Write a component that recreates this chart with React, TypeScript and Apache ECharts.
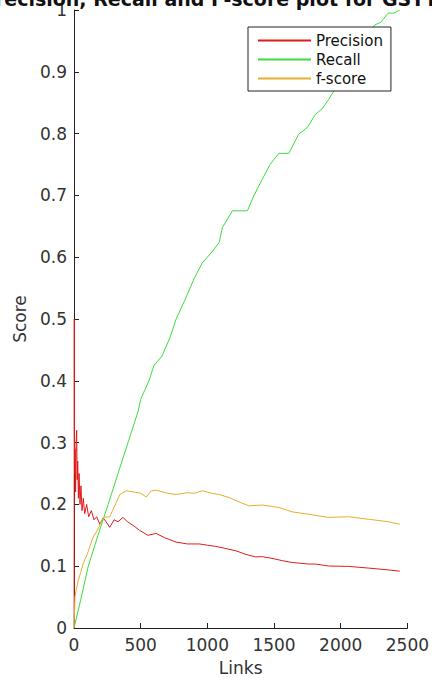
import React, { useEffect, useRef } from "react";
import * as echarts from "echarts";

const titleText = "Precision, Recall and F-score plot for GSTT.C";
const xTicks = [0, 500, 1000, 1500, 2000, 2500];
const seriesNames = ["Precision", "Recall", "f-score"];

const precisionLinks = [1, 2, 3, 5, 8, 12, 16, 20, 24, 28, 33, 38, 45, 52, 60, 70, 80, 95, 110, 130, 150, 170, 194, 219, 240, 268, 300, 330, 368, 400, 450, 492, 554, 617, 680, 766, 850, 940, 1000, 1064, 1130, 1213, 1290, 1362, 1412, 1500, 1561, 1636, 1760, 1810, 1909, 2058, 2207, 2356, 2443];
const precisionValues = [0, 0.5, 0.33, 0.25, 0.29, 0.22, 0.3, 0.32, 0.24, 0.27, 0.21, 0.25, 0.2, 0.23, 0.19, 0.21, 0.185, 0.2, 0.18, 0.19, 0.175, 0.18, 0.168, 0.178, 0.172, 0.163, 0.175, 0.172, 0.179, 0.172, 0.165, 0.158, 0.15, 0.153, 0.146, 0.139, 0.136, 0.136, 0.134, 0.132, 0.129, 0.125, 0.119, 0.115, 0.1155, 0.112, 0.109, 0.106, 0.1035, 0.1035, 0.1003, 0.0997, 0.097, 0.094, 0.092];

const recallLinks = [0, 50, 107, 180, 256, 330, 405, 480, 500, 562, 600, 660, 720, 766, 830, 900, 960, 1000, 1040, 1089, 1113, 1188, 1300, 1350, 1412, 1470, 1536, 1611, 1685, 1750, 1810, 1860, 1909, 1980, 2050, 2120, 2190, 2257, 2300, 2356, 2400, 2443];
const recallValues = [0, 0.045, 0.1, 0.15, 0.2, 0.25, 0.3, 0.35, 0.37, 0.4, 0.425, 0.44, 0.47, 0.5, 0.53, 0.565, 0.59, 0.6, 0.61, 0.624, 0.648, 0.675, 0.675, 0.7, 0.726, 0.75, 0.768, 0.768, 0.799, 0.81, 0.831, 0.84, 0.855, 0.88, 0.9, 0.93, 0.955, 0.976, 0.98, 0.995, 0.995, 1.0];

const fscoreLinks = [0, 7, 15, 32, 50, 69, 100, 144, 180, 219, 268, 300, 343, 393, 450, 500, 542, 580, 617, 700, 766, 850, 900, 964, 1030, 1089, 1163, 1250, 1312, 1412, 1536, 1635, 1760, 1909, 2058, 2207, 2356, 2443];
const fscoreValues = [0, 0.05, 0.06, 0.077, 0.09, 0.104, 0.12, 0.147, 0.16, 0.179, 0.18, 0.195, 0.216, 0.222, 0.22, 0.218, 0.212, 0.222, 0.223, 0.218, 0.216, 0.219, 0.218, 0.222, 0.218, 0.216, 0.211, 0.203, 0.1976, 0.199, 0.195, 0.188, 0.184, 0.179, 0.18, 0.176, 0.172, 0.168];

const colors = ["#e01b1b", "#3ddc3d", "#e6ad2e"];
const FONT = "DejaVu Sans";

function pairs(xs: number[], ys: number[]) {
  return xs.map((x, i) => [x, ys[i]]);
}

export default function App() {
  const ref = useRef<HTMLDivElement>(null);
  useEffect(() => {
    if (!ref.current) return;
    const chart = echarts.init(ref.current, undefined, { renderer: "svg" });
    const lineSeries = (name: string, data: number[][], color: string) => ({
      name,
      type: "line",
      data,
      symbol: "none",
      lineStyle: { color, width: 1 },
      itemStyle: { color },
    });
    chart.setOption({
      animation: false,
      backgroundColor: "#ffffff",
      title: {
        text: titleText,
        left: -24,
        top: -16,
        textStyle: { fontFamily: FONT, fontSize: 19, fontWeight: "bold", color: "#111" },
      },
      legend: {
        orient: "vertical",
        left: 248,
        top: 27,
        backgroundColor: "#fff",
        borderColor: "#222",
        borderWidth: 1,
        borderRadius: 0,
        padding: [6, 8, 5, 10],
        itemWidth: 53,
        itemHeight: 2,
        itemGap: 4,
        icon: "rect",
        data: seriesNames,
        textStyle: { fontFamily: FONT, fontSize: 15, color: "#111" },
      },
      grid: { left: 74, right: 23, top: 10, bottom: 50 },
      xAxis: {
        type: "value",
        min: xTicks[0],
        max: xTicks[xTicks.length - 1],
        interval: 500,
        name: "Links",
        nameLocation: "middle",
        nameGap: 31,
        nameTextStyle: { fontFamily: FONT, fontSize: 17, color: "#333" },
        axisLine: { lineStyle: { color: "#222", width: 1 } },
        axisTick: { inside: true, length: 5, lineStyle: { color: "#222" } },
        axisLabel: {
          fontFamily: FONT,
          fontSize: 17,
          color: "#333",
          margin: 8,
          formatter: (v: number) => String(v),
        },
        splitLine: { show: false },
      },
      yAxis: {
        type: "value",
        min: 0,
        max: 1,
        interval: 0.1,
        name: "Score",
        nameLocation: "middle",
        nameGap: 46,
        nameTextStyle: { fontFamily: FONT, fontSize: 17, color: "#333" },
        axisLine: { show: true, lineStyle: { color: "#222", width: 1 } },
        axisTick: { show: true, inside: true, length: 5, lineStyle: { color: "#222" } },
        axisLabel: {
          fontFamily: FONT,
          fontSize: 17,
          color: "#333",
          margin: 7,
          formatter: (v: number) => (v === 0 ? "0" : v === 1 ? "1" : v.toFixed(1)),
        },
        splitLine: { show: false },
      },
      series: [
        lineSeries(seriesNames[0], pairs(precisionLinks, precisionValues), colors[0]),
        lineSeries(seriesNames[1], pairs(recallLinks, recallValues), colors[1]),
        lineSeries(seriesNames[2], pairs(fscoreLinks, fscoreValues), colors[2]),
      ],
    });
    return () => chart.dispose();
  }, []);
  return (
    <div
      ref={ref}
      style={{ position: "fixed", left: 0, top: 0, width: 432, height: 681 }}
    />
  );
}
